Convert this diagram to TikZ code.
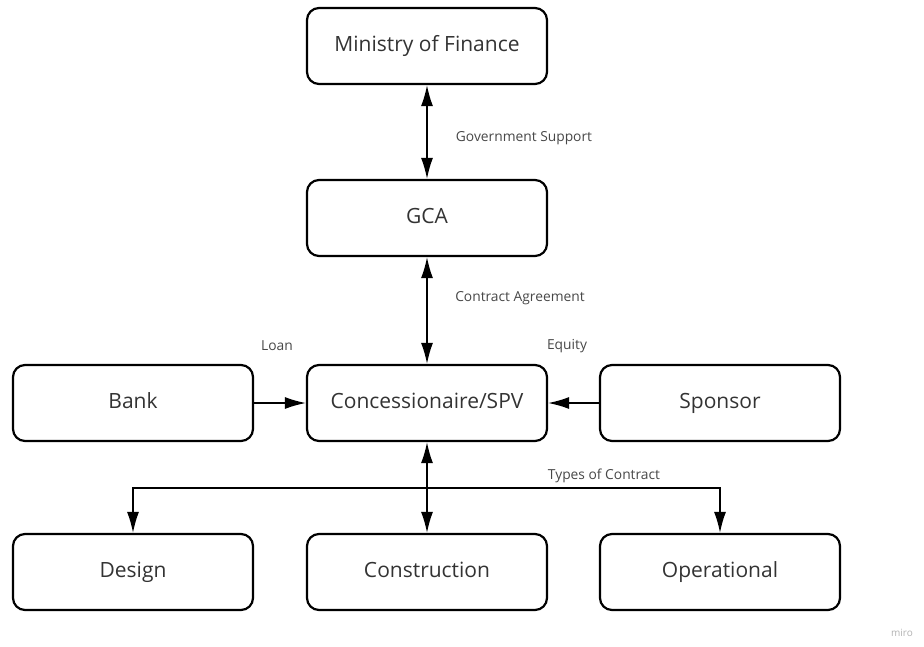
\documentclass[tikz,border=0pt]{standalone}
\usepackage{fontspec}
\setmainfont{Open Sans}
\usetikzlibrary{arrows.meta}
\begin{document}
\begin{tikzpicture}[x=1pt,y=-1pt,
 box/.style={draw, line width=2.2pt, rounded corners=12pt, minimum width=240pt, minimum height=76pt, text height=14pt, text depth=4pt, font=\fontsize{21}{24}\selectfont, text=black!80},
 tip/.tip={Latex[length=21pt,width=12pt]},
 conn/.style={line width=1.5pt, -tip},
 both/.style={line width=1.5pt, tip-tip},
 lbl/.style={font=\fontsize{13.8}{16}\selectfont, text=black!72}]
\useasboundingbox (0,0) rectangle (924,646);
\node[box] (mof) at (427,46) {Ministry of Finance};
\node[box] (gca) at (427,218) {GCA};
\node[box] (spv) at (427,403) {Concessionaire/SPV};
\node[box] (bank) at (133,403) {Bank};
\node[box] (spon) at (720,403) {Sponsor};
\node[box] (des) at (133,572) {Design};
\node[box] (con) at (427,572) {Construction};
\node[box] (ops) at (720,572) {Operational};
\draw[both] (mof) -- (gca);
\draw[both] (gca) -- (spv);
\draw[conn] (bank) -- (spv);
\draw[conn] (spon) -- (spv);
\draw[both] (spv) -- (con);
\coordinate (j) at (427,488);
\draw[conn] (j) -| (des);
\draw[conn] (j) -| (ops);
\node[lbl] (l1) at (524,138) {Government Support};
\node[lbl] (l2) at (520,298) {Contract Agreement};
\node[lbl] (l3) at (277,346) {Loan};
\node[lbl] (l4) at (567,346) {Equity};
\node[lbl] (l5) at (604,476) {Types of Contract};
\node[font=\fontsize{10}{11}\selectfont, text=black!30] (wm) at (902,633) {miro};
\end{tikzpicture}
\end{document}
